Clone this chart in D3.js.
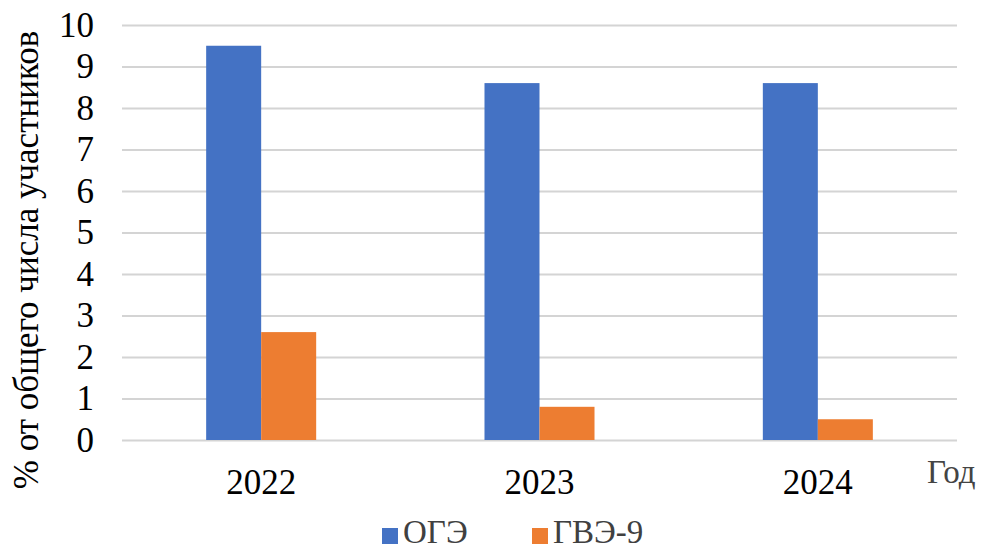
<!DOCTYPE html>
<html>
<head>
<meta charset="utf-8">
<script src="https://cdn.jsdelivr.net/npm/d3@7"></script>
<style>
  html, body { margin: 0; padding: 0; background: #fff; }
  svg { display: block; }
  svg text { font-family: 'Liberation Serif', 'Times New Roman', 'DejaVu Serif', serif; }
</style>
</head>
<body>
<svg id="chart" width="986" height="551"></svg>
<script>
// Share of participants by exam type and year
const years = ["2022", "2023", "2024"];
const seriesNames = ["ОГЭ", "ГВЭ-9"];
const ogeValues = [9.5, 8.6, 8.6];
const gveValues = [2.6, 0.8, 0.5];
const yTicks = [0, 1, 2, 3, 4, 5, 6, 7, 8, 9, 10];
const colors = ["#4472C4", "#ED7D31"];
const serif = "'Liberation Serif', 'Times New Roman', 'DejaVu Serif', serif";

const svg = d3.select("#chart");
const plotLeft = 122, plotRight = 957, plotTop = 25, plotBottom = 440;

const x = d3.scaleBand().domain(years).range([plotLeft, plotRight]).paddingInner(0).paddingOuter(0);
const xInner = d3.scaleBand().domain(seriesNames).range([0, x.bandwidth()]).paddingInner(0).paddingOuter(1.53);
const y = d3.scaleLinear().domain([0, 10]).range([plotBottom, plotTop]);

// gridlines and value labels
const yAxis = d3.axisLeft(y).tickValues(yTicks).tickSize(-(plotRight - plotLeft)).tickFormat(d3.format("d")).tickPadding(28);
const gAxis = svg.append("g").attr("transform", `translate(${plotLeft},0)`).call(yAxis)
  .attr("font-family", serif);
gAxis.select(".domain").remove();
gAxis.selectAll(".tick line").attr("stroke", "#d4d4d4").attr("stroke-width", 2);
gAxis.selectAll(".tick text")
  .style("font-family", serif)
  .attr("font-size", 35)
  .attr("fill", "#000");

// bars
const data = years.map((yr, i) => ({ year: yr, values: [ogeValues[i], gveValues[i]] }));
const groups = svg.append("g").selectAll("g").data(data).join("g")
  .attr("transform", d => `translate(${x(d.year)},0)`);
groups.selectAll("rect")
  .data(d => d.values.map((v, j) => ({ name: seriesNames[j], v, j })))
  .join("rect")
  .attr("x", d => xInner(d.name))
  .attr("width", xInner.bandwidth())
  .attr("y", d => y(d.v))
  .attr("height", d => y(0) - y(d.v))
  .attr("fill", d => colors[d.j]);

// category labels
svg.append("g").selectAll("text").data(years).join("text")
  .attr("x", d => x(d) + x.bandwidth() / 2)
  .attr("y", 494)
  .attr("text-anchor", "middle")
  .style("font-family", serif)
  .attr("font-size", 35)
  .attr("fill", "#000")
  .text(d => d);

// axis titles
svg.append("text")
  .attr("x", 927).attr("y", 483)
  .style("font-family", serif)
  .attr("font-size", 33)
  .attr("fill", "#444")
  .text("Год");

svg.append("text")
  .attr("transform", "translate(38,260) rotate(-90)")
  .attr("text-anchor", "middle")
  .style("font-family", serif)
  .attr("font-size", 35)
  .attr("fill", "#000")
  .text("% от общего числа участников");

// legend
const legendX = [382, 532];
const legend = svg.append("g").selectAll("g").data(seriesNames).join("g")
  .attr("transform", (d, i) => `translate(${legendX[i]},528)`);
legend.append("rect").attr("width", 16).attr("height", 16).attr("fill", (d, i) => colors[i]);
legend.append("text").attr("x", 21).attr("y", 15)
  .style("font-family", serif)
  .attr("font-size", 33).attr("fill", "#404040")
  .text(d => d);
</script>
</body>
</html>
